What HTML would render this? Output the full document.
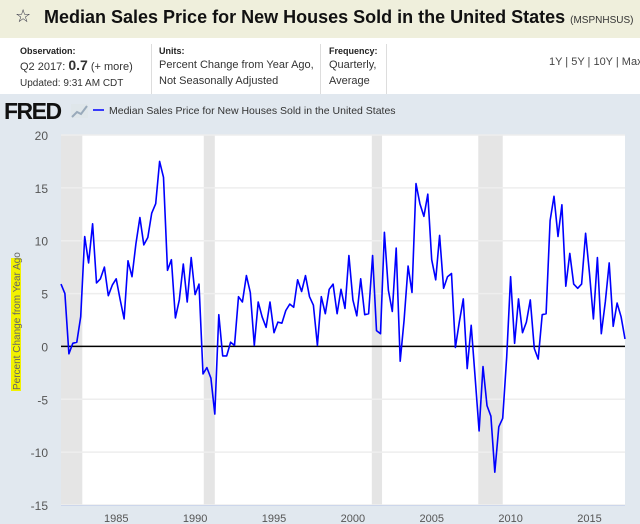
<!DOCTYPE html>
<html><head><meta charset="utf-8"><style>
body{margin:0;width:640px;height:524px;overflow:hidden;font-family:"Liberation Sans","DejaVu Sans",sans-serif;background:#fff;position:relative}
#titlebar{position:absolute;left:0;top:0;width:640px;height:38px;background:#efefdc}
#title{position:absolute;left:44px;top:7px;font-size:18px;font-weight:bold;color:#111;white-space:nowrap}
#title small{font-size:10px;font-weight:normal;color:#333}
#star{position:absolute;left:15px;top:6px;font-size:18px;color:#334}
#info{position:absolute;left:0;top:38px;width:640px;height:56px;background:#fff}
.col{position:absolute;top:8px;font-size:11px;color:#333;line-height:16px;white-space:nowrap}
.col b{font-size:9px;display:block;line-height:11px;color:#222}
.sep{position:absolute;top:6px;width:1px;height:50px;background:#ddd}
#chartbg{position:absolute;left:0;top:94px;width:640px;height:430px;background:#e1e8ef}
</style></head><body>
<div id="titlebar">
<span id="star">☆</span>
<div id="title">Median Sales Price for New Houses Sold in the United States <small>(MSPNHSUS)</small></div>
</div>
<div id="info">
<div class="col" style="left:20px"><b>Observation:</b>Q2 2017: <span style="font-size:14px;font-weight:bold">0.7</span> <span style="font-size:11px">(+ more)</span><br><span style="font-size:10px">Updated: 9:31 AM CDT</span></div>
<div class="sep" style="left:151px"></div>
<div class="col" style="left:159px"><b>Units:</b>Percent Change from Year Ago,<br>Not Seasonally Adjusted</div>
<div class="sep" style="left:320px"></div>
<div class="col" style="left:329px"><b>Frequency:</b>Quarterly,<br>Average</div>
<div class="sep" style="left:386px"></div>
<div class="col" style="left:549px;top:16px;font-size:11px;color:#444">1Y | 5Y | 10Y | Max</div>
</div>
<div id="chartbg"></div>
<svg id="svg" width="640" height="524" style="position:absolute;left:0;top:0"></svg>
<script>
const values=[5.9,5.0,-0.7,0.3,0.4,2.8,10.4,7.9,11.6,6.0,6.4,7.5,4.8,5.8,6.4,4.4,2.6,8.1,6.6,9.7,
12.2,9.6,10.3,12.6,13.5,17.5,16.0,7.2,8.2,2.7,4.4,7.8,4.2,8.4,4.9,5.9,-2.6,-2.0,-3.0,-6.4,
3.0,-0.9,-0.9,0.4,0.1,4.7,4.2,6.7,5.1,0.1,4.2,2.8,1.8,4.2,1.3,2.3,2.2,3.4,4.0,3.7,
6.3,5.2,6.7,4.7,3.9,0.1,4.7,3.1,5.4,5.9,3.1,5.4,
3.6,8.6,4.4,2.9,6.4,3.0,3.1,8.6,1.5,1.2,10.8,5.3,3.3,9.3,-1.4,2.5,7.6,5.1,15.4,13.5,12.3,14.4,8.2,6.3,10.5,5.5,6.6,6.9,
-0.1,2.3,4.5,-2.1,2.0,-2.9,-8.0,-1.9,-5.6,-6.6,-11.9,-7.6,-6.8,-1.0,6.6,0.3,4.5,1.3,2.3,4.4,-0.2,-1.2,3.0,3.1,
11.9,14.2,10.4,13.4,5.7,8.8,5.9,5.5,5.9,10.7,6.9,2.6,8.4,1.2,4.2,7.9,1.9,4.1,2.8,0.7];
const startYear=1981.5, endYear=2017.25;
const recessions=[[1981.5,1982.85],[1990.55,1991.25],[2001.2,2001.85],[2007.95,2009.5]];
const yTicks=[20,15,10,5,0,-5,-10,-15];
const xTicks=[1985,1990,1995,2000,2005,2010,2015];
const NS='http://www.w3.org/2000/svg';
const svg=document.getElementById('svg');
const L=61,R=625,T=135,B=505;
const X=yr=>L+(yr-startYear)/(endYear-startYear)*(R-L);
const Y=v=>T+(20-v)/35*(B-T);
function mk(t,a){const e=document.createElementNS(NS,t);for(const k in a)e.setAttribute(k,a[k]);svg.appendChild(e);return e;}
let e=mk('rect',{x:L,y:T,width:R-L,height:B-T,fill:'#fff'});


recessions.forEach(r=>{const el=mk('rect',{x:X(r[0]),y:T,width:X(r[1])-X(r[0]),height:B-T,fill:'#e5e5e5'});

});
yTicks.forEach(v=>{
 if(v!==0){const g=mk('line',{x1:L,x2:R,y1:Y(v),y2:Y(v),stroke:'#eeeeee','stroke-width':1.5});
 
 }
 const t=mk('text',{x:48,y:Y(v)+5,'text-anchor':'end','font-size':12,fill:'#555','font-family':'Liberation Sans, sans-serif'});
 t.textContent=v;
 
 
});
xTicks.forEach(v=>{const t=mk('text',{x:X(v),y:522,'text-anchor':'middle','font-size':11,fill:'#555','font-family':'Liberation Sans, sans-serif'});
 t.textContent=v;
 
 });
e=mk('line',{x1:L,x2:R,y1:B+0.5,y2:B+0.5,stroke:'#ccd6eb'});


e=mk('line',{x1:L,x2:R,y1:Y(0),y2:Y(0),stroke:'#000','stroke-width':1.5});


const step=(endYear-startYear)/(values.length-1);
const pts=values.map((v,i)=>X(startYear+i*step).toFixed(1)+','+Y(v).toFixed(1)).join(' ');
e=mk('polyline',{points:pts,fill:'none',stroke:'#0000ff','stroke-width':1.6,'stroke-linejoin':'round'});


e=mk('rect',{x:11,y:258,width:10,height:133,fill:'#f2f200'});


e=mk('text',{x:0,y:0,transform:'translate(20,390) rotate(-90)','font-size':10,fill:'#666','font-family':'Liberation Sans, sans-serif'});
e.textContent='Percent Change from Year Ago';


e=mk('text',{x:4,y:119,'font-size':23,'font-weight':'bold',fill:'#111','font-family':'Liberation Sans, sans-serif','letter-spacing':'-1.5'});
e.textContent='FRED';


e=mk('rect',{x:71,y:104,width:17,height:14,fill:'#dfe6ea'});


e=mk('polyline',{points:'72,117 77,112 81,114 87,106',fill:'none',stroke:'#9ab','stroke-width':2});


e=mk('line',{x1:93,x2:104,y1:110,y2:110,stroke:'#0000ff','stroke-width':1.5});


e=mk('text',{x:109,y:114,'font-size':10.5,fill:'#333','font-family':'Liberation Sans, sans-serif'});
e.textContent='Median Sales Price for New Houses Sold in the United States';


</script>
</body></html>
